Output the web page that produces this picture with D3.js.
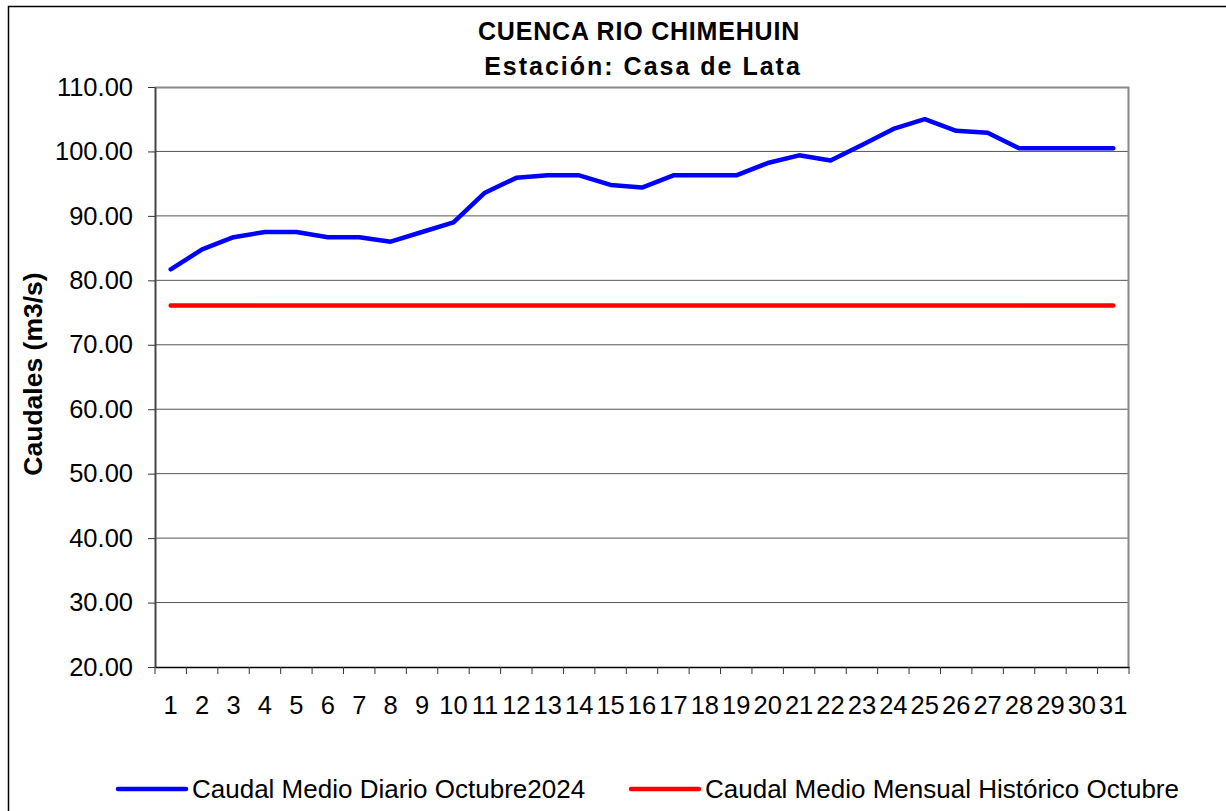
<!DOCTYPE html>
<html>
<head>
<meta charset="utf-8">
<script src="https://cdn.jsdelivr.net/npm/d3@7"></script>
<style>
  body { margin: 0; background: #fff; }
  svg { font-family: "Liberation Sans", Arial, sans-serif; }
</style>
</head>
<body>
<div id="chart"></div>
<script>
// days of October
const days = d3.range(1, 32).map(String);
// Caudal medio diario octubre 2024 (m3/s)
const dailyFlow = [81.7, 84.8, 86.7, 87.5, 87.5, 86.7, 86.7, 86.0, 87.5, 89.0,
  93.6, 95.9, 96.3, 96.3, 94.8, 94.4, 96.3, 96.3, 96.3, 98.2,
  99.4, 98.6, 101.0, 103.5, 105.0, 103.2, 102.9, 100.5, 100.5, 100.5, 100.5];
// historic monthly mean for October
const historicMean = days.map(() => 76.1);
const yTicks = [20, 30, 40, 50, 60, 70, 80, 90, 100, 110];

const width = 1226, height = 811;
const margin = { top: 87, right: 97, bottom: 144, left: 155 };
const plotW = width - margin.left - margin.right;
const plotH = height - margin.top - margin.bottom;
const FONT = "Liberation Sans, Arial, sans-serif";

const svg = d3.select("#chart").append("svg")
  .attr("width", width)
  .attr("height", height);

// outer chart border
svg.append("rect")
  .attr("x", 8.5).attr("y", 6.5)
  .attr("width", 1240).attr("height", 820)
  .attr("fill", "none").attr("stroke", "#000").attr("stroke-width", 1.5);

// titles
svg.append("text")
  .attr("x", 639).attr("y", 40)
  .attr("text-anchor", "middle")
  .attr("font-size", 25).attr("font-weight", "bold")
  .attr("letter-spacing", 0.8)
  .text("CUENCA RIO CHIMEHUIN");
svg.append("text")
  .attr("x", 643).attr("y", 75)
  .attr("text-anchor", "middle")
  .attr("font-size", 25).attr("font-weight", "bold")
  .attr("letter-spacing", 2)
  .text("Estación: Casa de Lata");

const g = svg.append("g")
  .attr("transform", "translate(" + margin.left + "," + margin.top + ")");

const x = d3.scaleBand().domain(days).range([0, plotW]);
const y = d3.scaleLinear().domain([20, 110]).range([plotH, 0]);

// gridlines
g.append("g")
  .selectAll("line")
  .data(yTicks.filter(d => d > 20 && d < 110))
  .join("line")
  .attr("x1", 0).attr("x2", plotW)
  .attr("y1", d => y(d)).attr("y2", d => y(d))
  .attr("stroke", "#555").attr("stroke-width", 1);

// plot frame (top and right in gray)
g.append("path")
  .attr("d", "M0,0.5H" + (plotW - 0.5) + "V" + plotH)
  .attr("fill", "none").attr("stroke", "#888").attr("stroke-width", 2);

// y axis
const yAxis = g.append("g")
  .call(d3.axisLeft(y).tickValues(yTicks).tickSize(7).tickSizeOuter(0)
    .tickFormat(d3.format(".2f")));
yAxis.select(".domain").attr("stroke", "#444").attr("stroke-width", 2);
yAxis.selectAll(".tick line").attr("stroke", "#333");
yAxis.selectAll("text")
  .attr("font-size", 25.5).attr("font-family", FONT)
  .attr("fill", "#000").attr("x", -22);

// x axis
const xAxis = g.append("g")
  .attr("transform", "translate(0," + plotH + ")")
  .call(d3.axisBottom(x).tickSize(0).tickSizeOuter(0));
xAxis.select(".domain").attr("stroke", "#000").attr("stroke-width", 1.5);
xAxis.selectAll("text")
  .attr("font-size", 25.5).attr("font-family", FONT)
  .attr("fill", "#000").attr("dy", 0).attr("y", 47);
// category boundary ticks
xAxis.append("g")
  .selectAll("line")
  .data(days)
  .join("line")
  .attr("x1", d => x(d)).attr("x2", d => x(d))
  .attr("y1", 0).attr("y2", 7)
  .attr("stroke", "#333");
xAxis.append("line")
  .attr("x1", plotW).attr("x2", plotW).attr("y1", 0).attr("y2", 7)
  .attr("stroke", "#333");

// y axis title
svg.append("text")
  .attr("transform", "translate(42,374) rotate(-90)")
  .attr("text-anchor", "middle")
  .attr("font-size", 26.5).attr("font-weight", "bold")
  .text("Caudales (m3/s)");

const line = d3.line()
  .x((d, i) => x(days[i]) + x.bandwidth() / 2)
  .y(d => y(d));

g.append("path")
  .datum(historicMean)
  .attr("d", line)
  .attr("fill", "none").attr("stroke", "#ff0000")
  .attr("stroke-width", 4.5).attr("stroke-linecap", "round");

g.append("path")
  .datum(dailyFlow)
  .attr("d", line)
  .attr("fill", "none").attr("stroke", "#0000ff")
  .attr("stroke-width", 4.5).attr("stroke-linejoin", "round")
  .attr("stroke-linecap", "round");

// legend
const legendItems = [
  { label: "Caudal Medio Diario Octubre2024", color: "#0000ff", x: 118 },
  { label: "Caudal Medio Mensual Histórico Octubre", color: "#ff0000", x: 631 }
];
const legend = svg.append("g").selectAll("g")
  .data(legendItems)
  .join("g")
  .attr("transform", d => "translate(" + d.x + ",789)");
legend.append("line")
  .attr("x1", 0).attr("x2", 68)
  .attr("stroke", d => d.color).attr("stroke-width", 4.5)
  .attr("stroke-linecap", "round");
legend.append("text")
  .attr("x", 74).attr("y", 9)
  .attr("font-size", 26)
  .text(d => d.label);
</script>
</body>
</html>
